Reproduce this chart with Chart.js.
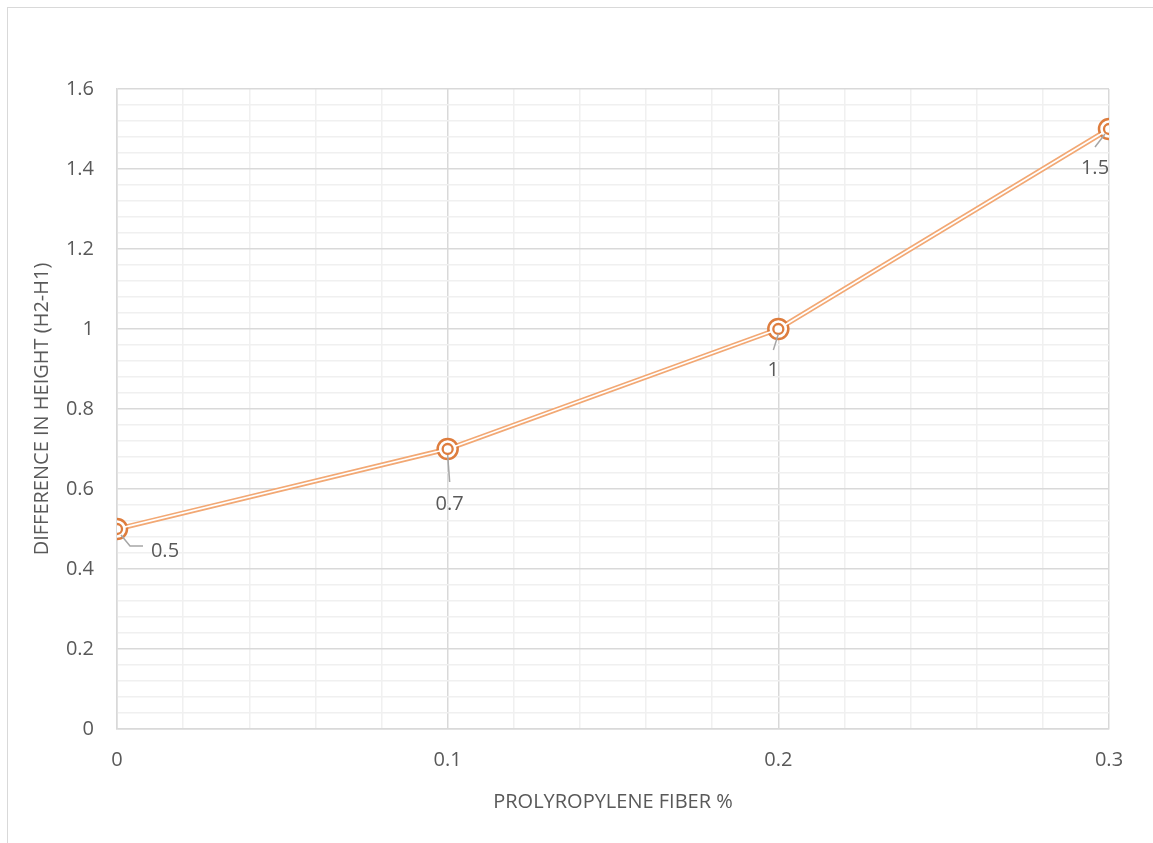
<!DOCTYPE html>
<html>
<head>
<meta charset="utf-8">
<script src="https://cdn.jsdelivr.net/npm/chart.js@4.4.0/dist/chart.umd.min.js"></script>
<style>
  html, body { margin: 0; padding: 0; background: #fff; }
  #wrap { position: relative; width: 1153px; height: 843px; }
  #frame { position: absolute; left: 7px; top: 7px; width: 1160px; height: 850px; border: 1.5px solid #d9d9d9; box-sizing: border-box; }
  canvas { position: absolute; left: 0; top: 0; }
</style>
</head>
<body>
<div id="wrap">
  <div id="frame"></div>
  <canvas id="fiberChart" width="1153" height="843"></canvas>
</div>
<script>
// fibre content vs height difference
const fiberPct = [0, 0.1, 0.2, 0.3];
const heightDiff = [0.5, 0.7, 1.0, 1.5];
const pointLabels = ['0.5', '0.7', '1', '1.5'];

const orange = '#f2a874';
const ringColor = '#de7d3e';
const textColor = '#595959';
const fontFamily = '"Open Sans", "Noto Sans", sans-serif';

// label placement per point: leader path offsets, then text offset
const labelLayout = [
  { path: [[4, 6], [13, 17], [26, 17]], text: [48, 22] },
  { path: [[0, 6], [2, 33]], text: [2, 55] },
  { path: [[0, 5], [-5, 21]], text: [-5, 41] },
  { path: [[-4, 5], [-14, 18]], text: [-14, 39] }
];

const isMultiple = (v, step) => Math.abs(v / step - Math.round(v / step)) < 1e-6;
const fmt = v => String(Math.round(v * 10) / 10);

const pointLabelPlugin = {
  id: 'pointLabels',
  afterDatasetsDraw(chart) {
    const ctx = chart.ctx;
    const meta = chart.getDatasetMeta(0);
    ctx.save();
    meta.data.forEach((pt, i) => {
      const lay = labelLayout[i];
      ctx.strokeStyle = '#a6a6a6';
      ctx.lineWidth = 1.5;
      ctx.beginPath();
      lay.path.forEach(([dx, dy], k) => {
        if (k === 0) ctx.moveTo(pt.x + dx, pt.y + dy);
        else ctx.lineTo(pt.x + dx, pt.y + dy);
      });
      ctx.stroke();
      ctx.fillStyle = textColor;
      ctx.font = '20px ' + fontFamily;
      ctx.textAlign = 'center';
      ctx.textBaseline = 'middle';
      ctx.fillText(pointLabels[i], pt.x + lay.text[0], pt.y + lay.text[1]);
    });
    ctx.restore();
  }
};

const points = fiberPct.map((x, i) => ({ x: x, y: heightDiff[i] }));

new Chart(document.getElementById('fiberChart'), {
  type: 'line',
  data: {
    datasets: [
      {
        // outer orange stroke and outer ring
        data: points,
        borderColor: orange,
        borderWidth: 5,
        pointRadius: 10,
        pointBorderWidth: 2.5,
        pointBorderColor: ringColor,
        pointBackgroundColor: '#fff',
        order: 2
      },
      {
        // white core of the double line and inner ring
        data: points,
        borderColor: '#fff',
        borderWidth: 1.8,
        pointRadius: 5,
        pointBorderWidth: 2.3,
        pointBorderColor: ringColor,
        pointBackgroundColor: '#fff',
        order: 1
      }
    ]
  },
  options: {
    responsive: false,
    animation: false,
    layout: { padding: { top: 89, right: 44, left: 0, bottom: 0 } },
    plugins: { legend: { display: false }, tooltip: { enabled: false } },
    scales: {
      x: {
        type: 'linear',
        min: 0,
        max: 0.3,
        afterFit: s => { s.height = 114; },
        border: { color: '#d9d9d9', width: 1.5 },
        grid: {
          drawTicks: false,
          lineWidth: 1.5,
          color: c => isMultiple(c.tick.value, 0.1) ? '#d9d9d9' : '#f0f0f0'
        },
        ticks: {
          stepSize: 0.02,
          autoSkip: false,
          maxRotation: 0,
          padding: 19,
          color: textColor,
          font: { family: fontFamily, size: 20 },
          callback: v => isMultiple(v, 0.1) ? fmt(v) : ''
        },
        title: {
          display: true,
          text: 'PROLYROPYLENE FIBER %',
          color: textColor,
          font: { family: fontFamily, size: 20 },
          padding: { top: 0, bottom: 29 }
        }
      },
      y: {
        min: 0,
        max: 1.6,
        afterFit: s => { s.width = 117; },
        border: { color: '#d9d9d9', width: 1.5 },
        grid: {
          drawTicks: false,
          lineWidth: 1.5,
          color: c => isMultiple(c.tick.value, 0.2) ? '#d9d9d9' : '#f0f0f0'
        },
        ticks: {
          stepSize: 0.04,
          autoSkip: false,
          padding: 23,
          color: textColor,
          font: { family: fontFamily, size: 20 },
          callback: v => isMultiple(v, 0.2) ? fmt(v) : ''
        },
        title: {
          display: true,
          text: 'DIFFERENCE IN HEIGHT (H2-H1)',
          color: textColor,
          font: { family: fontFamily, size: 20 },
          padding: { top: 30, bottom: 0 }
        }
      }
    }
  },
  plugins: [pointLabelPlugin]
});
</script>
</body>
</html>
